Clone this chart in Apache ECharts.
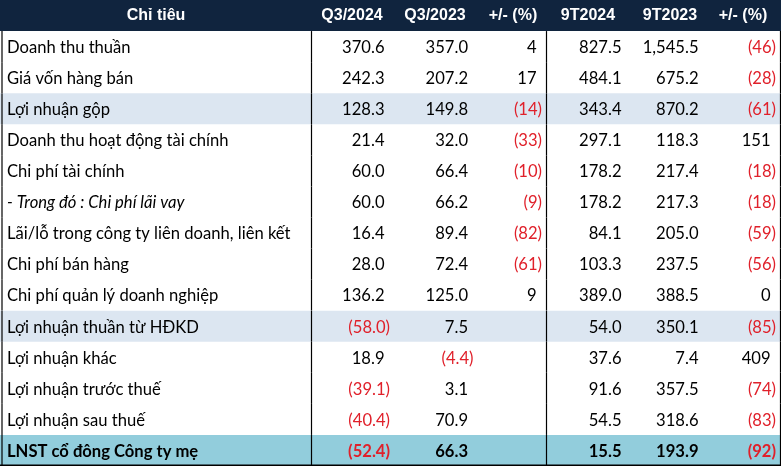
<!DOCTYPE html>
<html><head><meta charset="utf-8">
<script src="https://cdn.jsdelivr.net/npm/echarts@6/dist/echarts.min.js"></script>
<style>html,body{margin:0;padding:0;background:#fff}#c{width:781px;height:466px}</style>
</head><body><div id="c"></div>
<script>
// ---------- DATA ----------
const headers = ['Chỉ tiêu', 'Q3/2024', 'Q3/2023', '+/- (%)', '9T2024', '9T2023', '+/- (%)'];
const items = [
  'Doanh thu thuần',
  'Giá vốn hàng bán',
  'Lợi nhuận gộp',
  'Doanh thu hoạt động tài chính',
  'Chi phí tài chính',
  '- Trong đó : Chi phí lãi vay',
  'Lãi/lỗ trong công ty liên doanh, liên kết',
  'Chi phí bán hàng',
  'Chi phí quản lý doanh nghiệp',
  'Lợi nhuận thuần từ HĐKD',
  'Lợi nhuận khác',
  'Lợi nhuận trước thuế',
  'Lợi nhuận sau thuế',
  'LNST cổ đông Công ty mẹ'
];
const q3_2024 = [370.6, 242.3, 128.3, 21.4, 60.0, 60.0, 16.4, 28.0, 136.2, -58.0, 18.9, -39.1, -40.4, -52.4];
const q3_2023 = [357.0, 207.2, 149.8, 32.0, 66.4, 66.2, 89.4, 72.4, 125.0, 7.5, -4.4, 3.1, 70.9, 66.3];
const q3_change = [4, 17, -14, -33, -10, -9, -82, -61, 9, null, null, null, null, null];
const t9_2024 = [827.5, 484.1, 343.4, 297.1, 178.2, 178.2, 84.1, 103.3, 389.0, 54.0, 37.6, 91.6, 54.5, 15.5];
const t9_2023 = [1545.5, 675.2, 870.2, 118.3, 217.4, 217.3, 205.0, 237.5, 388.5, 350.1, 7.4, 357.5, 318.6, 193.9];
const t9_change = [-46, -28, -61, 151, -18, -18, -59, -56, 0, -85, 409, -74, -83, -92];

// ---------- LAYOUT / STYLE ----------
const valueCols = [
  { values: q3_2024, dec: 1 },
  { values: q3_2023, dec: 1 },
  { values: q3_change, dec: 0 },
  { values: t9_2024, dec: 1 },
  { values: t9_2023, dec: 1 },
  { values: t9_change, dec: 0 }
];
const TEXT_RIGHT = [390, 473.5, 542, 627, 704, 776];
const HEADER_CENTER = [156, 352, 435, 513, 588, 670, 743];
const LABEL_X = 7;
const PAREN_W = 5.5;
const DIVIDERS = [2, 311.5, 546.5, 780.5];
const ROW_FILL = { 3: '#DCE6F1', 10: '#DCE6F1', 14: '#92CDDC' };
const BOLD_ROWS = [14];
const ITALIC_ROWS = [6];
const HEADER_BG = '#10243E';
const RED = '#E0202A';
const BODY_FONT = 'Lato';
const BODY_SIZE = 16.6;

function fmt(v, dec) {
  if (v === null || v === undefined) return '';
  const s = Math.abs(v).toFixed(dec).replace(/\B(?=(\d{3})+(?!\d))/g, ',');
  return v < 0 ? '(' + s + ')' : s;
}

const rowKeys = ['__header__'].concat(items);
const chart = echarts.init(document.getElementById('c'), null, { renderer: 'canvas' });

function renderItem(params, api) {
  const r = api.value(1);
  const c = api.coord([0, r]);
  const h = api.size([0, 1])[1];
  const top = c[1] - h / 2;
  const cy = c[1];
  const X = (v) => api.coord([v, r])[0];
  const x0 = X(0), x1 = X(781);
  const children = [];
  if (r === 0) {
    children.push({ type: 'rect', shape: { x: x0, y: top, width: x1 - x0, height: h }, style: { fill: HEADER_BG } });
    headers.forEach((t, k) => {
      children.push({ type: 'text', style: { text: t, x: X(HEADER_CENTER[k]), y: cy + 0.5, align: 'center', verticalAlign: 'middle', fill: '#fff', font: 'bold 16px "Liberation Sans", Arial, sans-serif' } });
    });
    return { type: 'group', children };
  }
  const i = r - 1;
  if (ROW_FILL[r]) {
    children.push({ type: 'rect', shape: { x: x0, y: top, width: x1 - x0, height: h }, style: { fill: ROW_FILL[r] } });
  }
  const bold = BOLD_ROWS.indexOf(r) >= 0;
  const italic = ITALIC_ROWS.indexOf(r) >= 0;
  const font = (italic ? 'italic ' : '') + (bold ? 'bold ' : '') + BODY_SIZE + 'px ' + BODY_FONT + ', sans-serif';
  children.push({ type: 'text', style: { text: items[i], x: X(LABEL_X), y: cy + 1, align: 'left', verticalAlign: 'middle', fill: '#000', font } });
  valueCols.forEach((col, k) => {
    const v = col.values[i];
    if (v === null || v === undefined) return;
    const neg = v < 0;
    children.push({ type: 'text', style: { text: fmt(v, col.dec), x: X(TEXT_RIGHT[k] - (neg ? 0 : PAREN_W)), y: cy + 1, align: 'right', verticalAlign: 'middle', fill: neg ? RED : '#000', font: (bold ? 'bold ' : '') + BODY_SIZE + 'px ' + BODY_FONT + ', sans-serif' } });
  });
  DIVIDERS.forEach((d) => {
    children.push({ type: 'line', shape: { x1: X(d), y1: top, x2: X(d), y2: top + h }, style: { stroke: '#000', lineWidth: 1.2 } });
  });
  if (r === rowKeys.length - 1) {
    children.push({ type: 'line', shape: { x1: x0, y1: top + h - 0.8, x2: x1, y2: top + h - 0.8 }, style: { stroke: '#000', lineWidth: 1.4 } });
  }
  return { type: 'group', children };
}

chart.setOption({
  animation: false,
  backgroundColor: '#fff',
  grid: { left: 0, right: 0, top: 0, bottom: 0 },
  xAxis: { type: 'value', min: 0, max: 781, show: false },
  yAxis: { type: 'category', data: rowKeys, inverse: true, show: false },
  series: [{
    type: 'custom',
    clip: false,
    renderItem,
    data: rowKeys.map((k, r) => [0, r])
  }]
});
</script></body></html>
